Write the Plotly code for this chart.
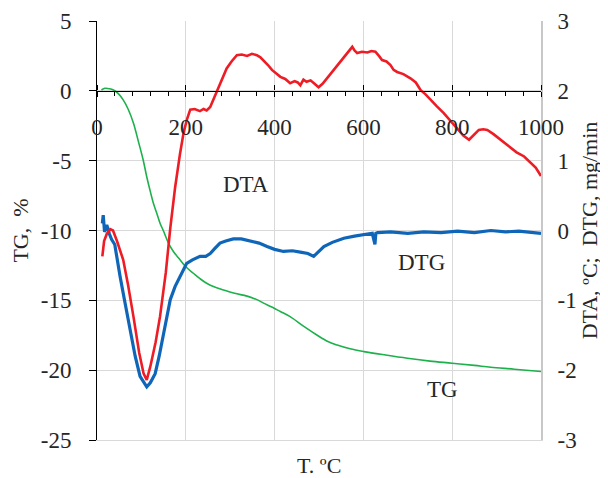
import plotly.graph_objects as go

# ---- data ----
tg_T = [10, 18, 28, 37, 48, 59, 70, 82, 93, 104, 112, 120, 127, 135, 142, 150, 161, 172, 187, 200,
        217, 232, 247, 265, 285, 310, 338, 360, 375, 395, 413, 435, 465, 496, 520, 541, 570, 601,
        650, 699, 750, 800, 850, 887, 940, 1000]
tg_val = [0.06, 0.18, 0.15, 0.06, -0.2, -0.65, -1.3, -2.3, -3.6, -4.95, -6.15, -7.2, -8.05, -8.8,
          -9.48, -10.05, -10.9, -11.5, -12.1, -12.6, -13.06, -13.45, -13.78, -14.05, -14.26, -14.5,
          -14.7, -14.95, -15.2, -15.5, -15.8, -16.17, -16.85, -17.5, -17.95, -18.2, -18.47, -18.67,
          -18.92, -19.15, -19.35, -19.5, -19.66, -19.79, -19.93, -20.1]

dta_T = [12, 16, 22, 30, 36, 45, 59, 70, 82, 95, 105, 112, 120, 132, 142, 155, 165, 176, 187, 195,
         203, 210, 220, 232, 240, 247, 255, 265, 274, 283, 292, 303, 315, 326, 338, 349, 360, 368,
         375, 385, 394, 404, 413, 424, 435, 445, 452, 458, 465, 472, 481, 490, 499, 508, 518, 530,
         541, 552, 563, 575, 580, 586, 597, 609, 618, 627, 635, 642, 652, 661, 668, 676, 690, 706,
         718, 729, 740, 751, 765, 781, 796, 812, 825, 838, 848, 860, 870, 879, 893, 909, 920, 932,
         945, 962, 975, 988, 1000]
dta_val = [-0.37, -0.15, -0.05, 0.02, 0.0, -0.15, -0.42, -0.78, -1.23, -1.75, -2.05, -2.14, -1.95,
           -1.6, -1.23, -0.6, 0.03, 0.62, 1.1, 1.4, 1.6, 1.73, 1.74, 1.71, 1.74, 1.72, 1.77, 1.92,
           2.06, 2.2, 2.32, 2.42, 2.51, 2.52, 2.50, 2.53, 2.51, 2.48, 2.44, 2.37, 2.30, 2.24, 2.20,
           2.17, 2.11, 2.14, 2.12, 2.08, 2.16, 2.13, 2.15, 2.10, 2.05, 2.10, 2.18, 2.26, 2.35, 2.44,
           2.54, 2.63, 2.58, 2.54, 2.56, 2.55, 2.57, 2.56, 2.50, 2.44, 2.42, 2.37, 2.30, 2.27, 2.24,
           2.18, 2.12, 2.01, 1.95, 1.87, 1.78, 1.68, 1.57, 1.44, 1.36, 1.30, 1.36, 1.44, 1.45, 1.44,
           1.38, 1.30, 1.24, 1.18, 1.12, 1.06, 0.98, 0.90, 0.78]

dtg_T = [12, 14, 17, 22, 28, 33, 40, 46, 52, 62, 74, 86, 97, 105, 112, 120, 131, 140, 149, 157, 165,
         176, 187, 195, 202, 215, 232, 245, 255, 265, 277, 290, 307, 325, 345, 365, 383, 400, 420,
         440, 458, 475, 488, 500, 511, 530, 556, 580, 601, 620, 626, 628, 632, 661, 700, 736, 775,
         812, 850, 887, 920, 950, 1000]
dtg_val = [0.10, 0.22, -0.02, 0.08, -0.05, -0.13, -0.2, -0.45, -0.66, -1.0, -1.42, -1.8, -2.09,
           -2.18, -2.24, -2.18, -2.05, -1.8, -1.52, -1.22, -0.99, -0.8, -0.66, -0.55, -0.47, -0.42,
           -0.37, -0.37, -0.33, -0.26, -0.18, -0.15, -0.12, -0.12, -0.15, -0.18, -0.23, -0.27, -0.30,
           -0.29, -0.31, -0.33, -0.37, -0.30, -0.23, -0.17, -0.11, -0.08, -0.06, -0.04, -0.2, -0.04,
           -0.03, -0.02, -0.04, -0.02, -0.03, -0.01, -0.03, 0.0, -0.02, -0.01, -0.04]

left_ticks = [-25, -20, -15, -10, -5, 0, 5]
left_labels = ["-25", "-20", "-15", "-10", "-5", "0", "5"]
right_ticks = [-3, -2, -1, 0, 1, 2, 3]
right_labels = ["-3", "-2", "-1", "0", "1", "2", "3"]
x_ticks = [0, 200, 400, 600, 800, 1000]
x_labels = ["0", "200", "400", "600", "800", "1000"]

FONT = "Liberation Serif"
FS = 23
TXT = "#262626"
GRID = "#d9d9d9"
Y_RANGE = [-25, 5]
CROSS = (0 - Y_RANGE[0]) / (Y_RANGE[1] - Y_RANGE[0])   # paper fraction where TG = 0

fig = go.Figure()
fig.add_trace(go.Scatter(x=tg_T, y=tg_val, mode="lines", name="TG",
                         line=dict(color="#1DB14B", width=1.6, shape="spline"),
                         xaxis="x", yaxis="y"))
fig.add_trace(go.Scatter(x=dtg_T, y=dtg_val, mode="lines", name="DTG",
                         line=dict(color="#0F66B8", width=3.2), xaxis="x", yaxis="y2"))
fig.add_trace(go.Scatter(x=dta_T, y=dta_val, mode="lines", name="DTA",
                         line=dict(color="#EE1C25", width=2.6), xaxis="x", yaxis="y2"))
# empty helper traces so the axis crossing at TG = 0 gets drawn
fig.add_trace(go.Scatter(x=[], y=[], xaxis="x2", yaxis="y3", hoverinfo="skip"))
fig.add_trace(go.Scatter(x=[], y=[], xaxis="x3", yaxis="y4", hoverinfo="skip"))

# page body has an 8px default margin: figure is 600x470 so it ends at the window edge
fig.update_layout(
    width=600, height=470,
    margin=dict(l=89, r=67, t=13, b=38),
    paper_bgcolor="white", plot_bgcolor="rgba(0,0,0,0)",
    showlegend=False,
    font=dict(family=FONT, size=FS, color=TXT),
    xaxis=dict(range=[0, 1000], tickvals=x_ticks, showticklabels=False, ticks="",
               showgrid=True, gridcolor=GRID, gridwidth=1, zeroline=False,
               showline=True, linecolor=GRID, automargin=False, domain=[0, 1]),
    xaxis2=dict(range=[0, 1000], anchor="y3", side="bottom", domain=[0, 1],
                tickvals=x_ticks, ticktext=x_labels, ticks="outside", ticklen=5, tickcolor="black",
                minor=dict(tickvals=list(range(40, 1000, 40)), ticks="outside", ticklen=4,
                           tickcolor="black", showgrid=False),
                showline=True, linecolor="black", linewidth=1, showgrid=False, zeroline=False,
                automargin=False, ticklabelstandoff=11,
                tickfont=dict(family=FONT, size=FS, color=TXT)),
    xaxis3=dict(range=[0, 1000], anchor="y4", side="top", domain=[0, 1],
                tickvals=x_ticks, ticks="outside", ticklen=5, tickcolor="black",
                showticklabels=False, showline=False, showgrid=False, zeroline=False,
                automargin=False),
    yaxis3=dict(domain=[CROSS, 1], anchor="x2", visible=False, range=[0, 1]),
    yaxis4=dict(domain=[0, CROSS], anchor="x3", visible=False, range=[0, 1]),
    yaxis=dict(range=Y_RANGE, tickvals=left_ticks, ticktext=left_labels, ticks="outside",
               ticklen=7, tickcolor="black", showline=True, linecolor="black", linewidth=1,
               showgrid=True, gridcolor=GRID, zeroline=False, automargin=False, domain=[0, 1],
               ticklabelstandoff=13, tickfont=dict(family=FONT, size=FS, color=TXT),
               title=dict(text="TG,  %", font=dict(family=FONT, size=FS - 1, color=TXT),
                          standoff=13)),
    yaxis2=dict(range=[-3, 3], tickvals=right_ticks, ticktext=right_labels, overlaying="y",
                side="right", anchor="x", ticks="", showline=True, linecolor="#c8c8c8",
                linewidth=2, showgrid=False, zeroline=False, automargin=False,
                ticklabelstandoff=10, tickfont=dict(family=FONT, size=FS, color=TXT),
                title=dict(text="DTA, ºC;  DTG, mg/min", font=dict(family=FONT, size=FS - 1, color=TXT),
                           standoff=2)),
)

fig.add_annotation(x=0.5, y=-0.06, xref="paper", yref="paper", yanchor="middle", showarrow=False,
                   text="T. ºC", font=dict(family=FONT, size=FS - 1, color=TXT))
fig.add_annotation(x=336, y=-6.7, xref="x", yref="y", showarrow=False, text="DTA",
                   font=dict(family=FONT, size=FS, color=TXT))
fig.add_annotation(x=731, y=-12.3, xref="x", yref="y", showarrow=False, text="DTG",
                   font=dict(family=FONT, size=FS, color=TXT))
fig.add_annotation(x=778, y=-21.4, xref="x", yref="y", showarrow=False, text="TG",
                   font=dict(family=FONT, size=FS, color=TXT))

fig.write_html("out.html")
